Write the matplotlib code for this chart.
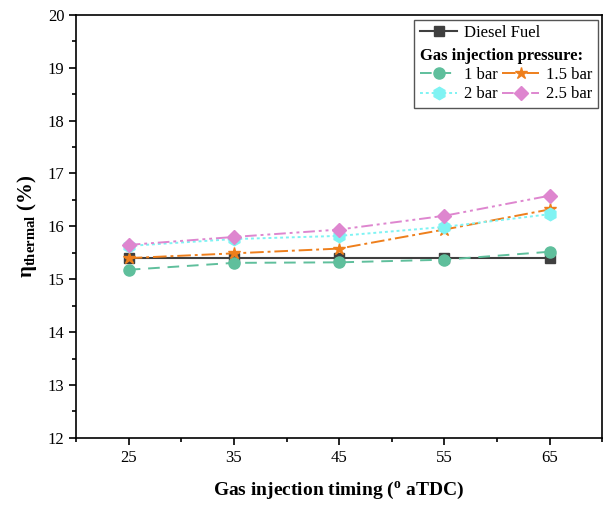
import numpy as np
import matplotlib
matplotlib.use('Agg')
import matplotlib.pyplot as plt
from matplotlib.lines import Line2D
from matplotlib.patches import Rectangle
from matplotlib.ticker import MultipleLocator

plt.rcParams['font.family'] = ['Liberation Serif', 'DejaVu Serif']
plt.rcParams['mathtext.fontset'] = 'custom'
plt.rcParams['mathtext.rm'] = 'Liberation Serif'
plt.rcParams['mathtext.bf'] = 'Liberation Serif:bold'

# Data
timing = [25, 35, 45, 55, 65]
diesel = [15.41, 15.41, 15.41, 15.41, 15.41]
bar_1 = [15.18, 15.31, 15.32, 15.37, 15.52]
bar_1_5 = [15.40, 15.49, 15.58, 15.94, 16.32]
bar_2 = [15.63, 15.76, 15.82, 15.99, 16.23]
bar_2_5 = [15.65, 15.80, 15.94, 16.20, 16.58]

fig = plt.figure(figsize=(6.04, 5.11), dpi=100)
ax = fig.add_axes([0.126, 0.143, 0.871, 0.828])

hd, = ax.plot(timing, diesel, color='#3f3f3f', ls='-', lw=1.5, marker='s', ms=7, label='Diesel Fuel')
h1, = ax.plot(timing, bar_1, color='#5fbf9c', ls=(0, (6, 4)), lw=1.4, marker='o', ms=8, label='1 bar')
h15, = ax.plot(timing, bar_1_5, color='#ee7f1c', ls=(0, (7, 2, 1.5, 2)), lw=1.4, marker='*', ms=9, label='1.5 bar')
h2, = ax.plot(timing, bar_2, color='#7ff3f3', ls=(0, (1.5, 1.5)), lw=1.4, marker='h', ms=9, label='2 bar')
h25, = ax.plot(timing, bar_2_5, color='#de86cf', ls=(0, (6, 2, 1.5, 2, 1.5, 2)), lw=1.4, marker='D', ms=7, label='2.5 bar')

ax.set_xlim(20, 70)
ax.set_ylim(12, 20)
ax.set_xticks(timing)
ax.xaxis.set_minor_locator(MultipleLocator(5))
ax.yaxis.set_major_locator(MultipleLocator(1))
ax.yaxis.set_minor_locator(MultipleLocator(0.5))
ax.tick_params(which='both', direction='out', labelsize=12, width=1.2)
ax.tick_params(which='major', length=5)
ax.tick_params(which='minor', length=3)
for s in ax.spines.values():
    s.set_linewidth(1.2)

ax.set_xlabel(r'Gas injection timing ($^{\mathbf{o}}$ aTDC)', fontsize=14, fontweight='bold', labelpad=10)
ax.set_ylabel(r'η$_{\mathbf{thermal}}$ (%)', fontsize=15, fontweight='bold', labelpad=6)

leg2 = ax.legend(handles=[h1, h2, h15, h25], ncol=2, loc='upper right',
                 bbox_to_anchor=(0.987, 0.93), frameon=False, fontsize=12,
                 title='Gas injection pressure:', alignment='left',
                 title_fontproperties={'weight': 'bold', 'size': 12},
                 handlelength=2.2, handletextpad=0.4, columnspacing=0.3,
                 labelspacing=0.2, borderpad=0.2, borderaxespad=0)
ax.add_artist(leg2)

fig.canvas.draw()
r = fig.canvas.get_renderer()
b2 = leg2.get_window_extent(r).transformed(ax.transAxes.inverted())

leg1 = ax.legend(handles=[hd], loc='lower left', bbox_to_anchor=(b2.x0, b2.y1),
                 frameon=False, fontsize=12, handlelength=2.2, handletextpad=0.4,
                 borderpad=0.2, borderaxespad=0)
fig.canvas.draw()
b1 = leg1.get_window_extent(r).transformed(ax.transAxes.inverted())

x0 = min(b1.x0, b2.x0)
y0 = b2.y0
x1 = max(b1.x1, b2.x1)
y1 = b1.y1
ax.add_patch(Rectangle((x0 - 0.005, y0 - 0.005), x1 - x0 + 0.01, y1 - y0 + 0.01,
                       transform=ax.transAxes, fill=False, ec='#555555', lw=1.0, zorder=5))

fig.savefig('out.png', dpi=100)
